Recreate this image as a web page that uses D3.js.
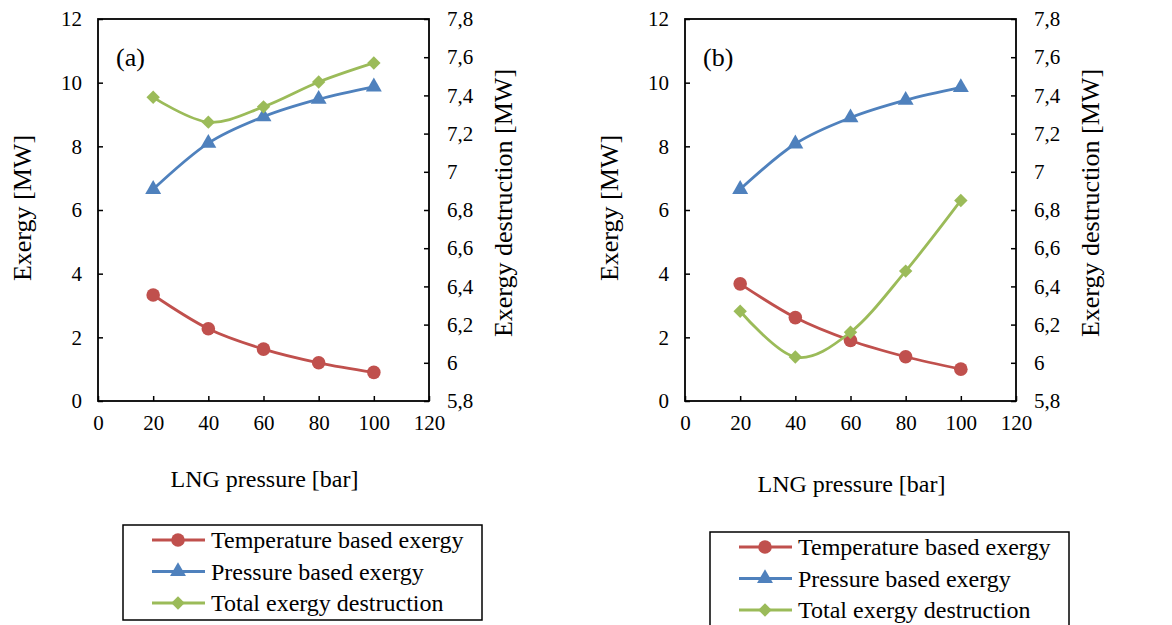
<!DOCTYPE html>
<html>
<head>
<meta charset="utf-8">
<script src="https://cdn.jsdelivr.net/npm/d3@7"></script>
<style>
  body { margin: 0; background: #fff; }
  svg text { font-family: "Liberation Serif", "Times New Roman", serif; fill: #000; }
</style>
</head>
<body>
<svg id="chart" width="1172" height="625"></svg>
<script>
// LNG pressure [bar] on the x axis
const pressure = [20, 40, 60, 80, 100];

// panel (a)
const tempExergyA = [3.33, 2.27, 1.63, 1.2, 0.9];
const pressExergyA = [6.65, 8.1, 8.93, 9.48, 9.87];
const destructionA = [7.39, 7.26, 7.34, 7.47, 7.57];

// panel (b)
const tempExergyB = [3.68, 2.62, 1.9, 1.39, 1.0];
const pressExergyB = [6.65, 8.08, 8.9, 9.45, 9.85];
const destructionB = [6.27, 6.03, 6.16, 6.48, 6.85];

const xTicks = [0, 20, 40, 60, 80, 100, 120];
const leftTicks = [0, 2, 4, 6, 8, 10, 12];
const rightTicks = [5.8, 6, 6.2, 6.4, 6.6, 6.8, 7, 7.2, 7.4, 7.6, 7.8];
const seriesNames = ["Temperature based exergy", "Pressure based exergy", "Total exergy destruction"];
const colors = ["#C0504D", "#4F81BD", "#9BBB59"];

const svg = d3.select("#chart");

// plot box inside a panel
const plot = { left: 98, right: 429, top: 19, bottom: 401 };

const x = d3.scaleLinear().domain([0, 120]).range([plot.left, plot.right]);
const yLeft = d3.scaleLinear().domain([0, 12]).range([plot.bottom, plot.top]);
const yRight = d3.scaleLinear().domain([5.8, 7.8]).range([plot.bottom, plot.top]);

const commaFmt = d => String(d).replace(".", ",");

function marker(kind) {
    if (kind === 0) return d3.symbol(d3.symbolCircle, 145)();
    if (kind === 1) return d3.symbol(d3.symbolTriangle, 110)();
    return d3.symbol(d3.symbolSquare, 90)();
}

function drawMarker(g, kind, cx, cy) {
    g.append("path")
        .attr("d", marker(kind))
        .attr("fill", colors[kind])
        .attr("transform", `translate(${cx},${cy})` + (kind === 2 ? " rotate(45)" : ""));
}

function drawPanel(offsetX, label, temp, press, destr, xTitleY, legendTop) {
    const g = svg.append("g").attr("transform", `translate(${offsetX},0)`);

    // axes (ticks point inward)
    const axL = g.append("g")
        .attr("transform", `translate(${plot.left},0)`)
        .call(d3.axisLeft(yLeft).tickValues(leftTicks).tickSizeInner(-5).tickSizeOuter(0).tickPadding(16));
    const axR = g.append("g")
        .attr("transform", `translate(${plot.right},0)`)
        .call(d3.axisRight(yRight).tickValues(rightTicks).tickFormat(commaFmt).tickSizeInner(-5).tickSizeOuter(0).tickPadding(18));
    const axB = g.append("g")
        .attr("transform", `translate(0,${plot.bottom})`)
        .call(d3.axisBottom(x).tickValues(xTicks).tickSizeInner(-5).tickSizeOuter(0).tickPadding(14));

    [axL, axR, axB].forEach(a => {
        a.select(".domain").remove();
        a.selectAll(".tick line").attr("stroke", "#000").attr("stroke-width", 1.5);
        a.selectAll(".tick text").attr("font-size", "21px");
    });

    // frame
    g.append("rect")
        .attr("x", plot.left)
        .attr("y", plot.top)
        .attr("width", plot.right - plot.left)
        .attr("height", plot.bottom - plot.top)
        .attr("fill", "none")
        .attr("stroke", "#000")
        .attr("stroke-width", 1.8);

    // series
    const series = [
        { vals: temp, y: yLeft, kind: 0 },
        { vals: press, y: yLeft, kind: 1 },
        { vals: destr, y: yRight, kind: 2 }
    ];
    series.forEach(s => {
        const pts = pressure.map((p, i) => [x(p), s.y(s.vals[i])]);
        g.append("path")
            .attr("d", d3.line().curve(d3.curveCatmullRom.alpha(0))(pts))
            .attr("fill", "none")
            .attr("stroke", colors[s.kind])
            .attr("stroke-width", 2.8);
        pts.forEach(p => drawMarker(g, s.kind, p[0], p[1]));
    });

    // panel label
    g.append("text")
        .attr("x", 116)
        .attr("y", 66)
        .attr("font-size", "26px")
        .text(label);

    // axis titles
    g.append("text")
        .attr("transform", "translate(22,208) rotate(-90)")
        .attr("text-anchor", "middle")
        .attr("dominant-baseline", "central")
        .attr("font-size", "26px")
        .text("Exergy [MW]");
    g.append("text")
        .attr("transform", "translate(503,203) rotate(-90)")
        .attr("text-anchor", "middle")
        .attr("dominant-baseline", "central")
        .attr("font-size", "26px")
        .text("Exergy destruction [MW]");
    g.append("text")
        .attr("x", (plot.left + plot.right) / 2 + 1)
        .attr("y", xTitleY)
        .attr("text-anchor", "middle")
        .attr("font-size", "24px")
        .text("LNG pressure [bar]");

    // legend
    g.append("rect")
        .attr("x", 123)
        .attr("y", legendTop)
        .attr("width", 359)
        .attr("height", 95)
        .attr("fill", "none")
        .attr("stroke", "#000")
        .attr("stroke-width", 1.5);
    seriesNames.forEach((name, i) => {
        const cy = legendTop + 15 + i * 31.5;
        g.append("line")
            .attr("x1", 152).attr("x2", 205)
            .attr("y1", cy).attr("y2", cy)
            .attr("stroke", colors[i])
            .attr("stroke-width", 2.8);
        drawMarker(g, i, 178, cy);
        g.append("text")
            .attr("x", 211)
            .attr("y", cy)
            .attr("dominant-baseline", "central")
            .attr("font-size", "24px")
            .text(name);
    });
}

drawPanel(0, "(a)", tempExergyA, pressExergyA, destructionA, 487, 525);
drawPanel(587, "(b)", tempExergyB, pressExergyB, destructionB, 492, 532);
</script>
</body>
</html>
